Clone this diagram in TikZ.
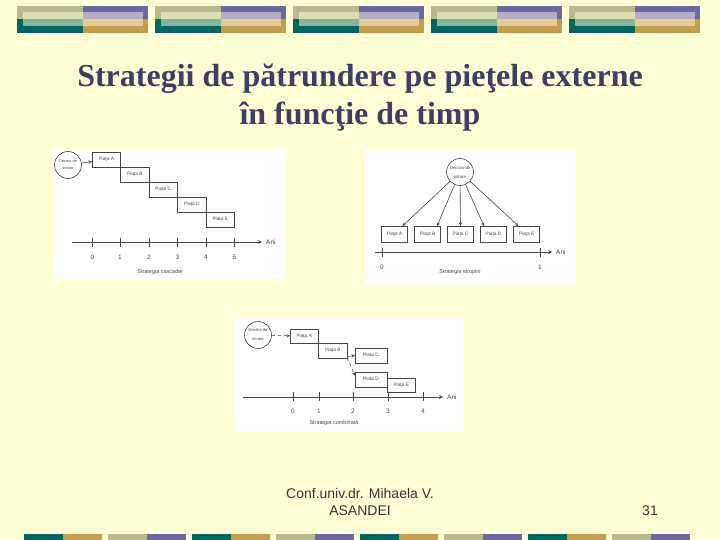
\documentclass[tikz,border=0pt]{standalone}
\usepackage{fontspec}
\setmainfont{Liberation Serif}
\setsansfont{Liberation Sans}
\usetikzlibrary{arrows,arrows.meta,positioning,calc}

\definecolor{slidebg}{RGB}{255,255,214}
\definecolor{titleink}{RGB}{62,62,102}
\definecolor{footink}{RGB}{51,51,51}
\definecolor{scanink}{RGB}{70,70,70}
\definecolor{bandsage}{RGB}{184,186,140}
\definecolor{bandsagelt}{RGB}{221,222,179}
\definecolor{bandviolet}{RGB}{106,104,160}
\definecolor{bandvioletlt}{RGB}{178,174,198}
\definecolor{bandteal}{RGB}{0,102,95}
\definecolor{bandteallt}{RGB}{134,180,156}
\definecolor{bandgold}{RGB}{196,156,76}
\definecolor{bandgoldlt}{RGB}{226,206,150}

\begin{document}
\begin{tikzpicture}[
      x=1pt,y=-1pt,
      piata/.style = {rectangle,draw=scanink,line width=0.6pt,minimum width=28.5pt,minimum height=15pt,inner sep=0pt,outer sep=0pt,text=scanink,font=\sffamily\fontsize{4.8}{5}\selectfont},
      decizie/.style = {circle,draw=scanink,line width=0.6pt,minimum size=27pt,inner sep=0pt,align=center,text=scanink,font=\sffamily\fontsize{3.8}{7}\selectfont},
      arrow/.style = {->,>=stealth,draw=scanink,line width=0.6pt},
      axa/.style = {->,>=stealth,draw=scanink,line width=0.7pt},
      ticka/.style = {draw=scanink,line width=0.6pt},
      mic/.style = {inner sep=0pt,text=scanink,font=\sffamily\fontsize{6.5}{7}\selectfont},
      eticheta/.style = {inner sep=0pt,text=scanink,font=\sffamily\fontsize{5.5}{6}\selectfont},
      panel/.style = {fill=white}
    ]
      % slide background
      \fill[slidebg] (0,0) rectangle (720,540);
      \useasboundingbox (0,0) rectangle (720,540);

      % top bands
      \foreach \x in {17,155,293,431,569}{
        \fill[bandsage] (\x,6) rectangle (\x+66,19.3);
        \fill[bandviolet] (\x+66,6) rectangle (\x+131,19.3);
        \fill[bandteal] (\x,19.3) rectangle (\x+66,32.7);
        \fill[bandgold] (\x+66,19.3) rectangle (\x+131,32.7);
        \fill[bandsagelt] (\x+6,11.7) rectangle (\x+66,19.3);
        \fill[bandvioletlt] (\x+66,11.7) rectangle (\x+125.5,19.3);
        \fill[bandteallt] (\x+6,19.3) rectangle (\x+66,26);
        \fill[bandgoldlt] (\x+66,19.3) rectangle (\x+125.5,26);
      }

      % bottom bands
      \foreach \x/\ca/\cb in {24/bandteal/bandgold,108/bandsage/bandviolet,192/bandteal/bandgold,276/bandsage/bandviolet,
                              360/bandteal/bandgold,444/bandsage/bandviolet,528/bandteal/bandgold,612/bandsage/bandviolet}{
        \fill[\ca] (\x,534) rectangle (\x+39,540);
        \fill[\cb] (\x+39,534) rectangle (\x+78,540);
      }

      % title and footer
      \node (titlu)[font=\bfseries\fontsize{32}{38}\selectfont,text=titleink,align=center] at (360,98)
        {Strategii de pătrundere pe pieţele externe\\în funcţie de timp};
      \node (autor)[font=\sffamily\fontsize{14}{17}\selectfont,text=footink,align=center] at (360,502)
        {Conf.univ.dr. Mihaela V.\\ASANDEI};
      \node (pagina)[font=\sffamily\fontsize{14}{17}\selectfont,text=footink] at (650,511) {31};

      % strategia cascadei
      \fill[panel] (53,149) rectangle (286,280);
      \node (dec1)[decizie] at (68,165) {Decizia de\\intrare};
      \node (pA)[piata,anchor=north west] at (92,152) {Piaţa A};
      \node (pB)[piata,below right = 0pt and 0pt of pA]{Piaţa B};
      \node (pC)[piata,below right = 0pt and 0pt of pB]{Piaţa C};
      \node (pD)[piata,below right = 0pt and 0pt of pC]{Piaţa D};
      \node (pE)[piata,below right = 0pt and 0pt of pD]{Piaţa E};
      \path (dec1) edge[arrow] (pA);
      \coordinate (ax1) at (72,242);
      \node (ani1)[mic,inner xsep=4pt,anchor=west] at (262,242) {Ani};
      \draw[axa] (ax1) -- (ani1.west);
      \foreach \i/\x in {0/92.5,1/120,2/149,3/177.5,4/206,5/234.5}{
        \draw[ticka] (\x,238) -- (\x,247);
        \node (a\i)[mic] at (\x,257) {\i};
      }
      \node (s1)[eticheta] at (160,272) {Strategia cascadei};

      % strategia stropirii
      \fill[panel] (365,149) rectangle (576,285);
      \node (dec2)[decizie,font=\sffamily\fontsize{4.3}{9}\selectfont] at (460,172) {Decizia de\\intrare};
      \node (qA)[piata,minimum width=26pt,minimum height=16pt] at (394.5,234) {Piaţa A};
      \node (qB)[piata,minimum width=26pt,minimum height=16pt,right = 7pt of qA]{Piaţa B};
      \node (qC)[piata,minimum width=26pt,minimum height=16pt,right = 7pt of qB]{Piaţa C};
      \node (qD)[piata,minimum width=26pt,minimum height=16pt,right = 7pt of qC]{Piaţa D};
      \node (qE)[piata,minimum width=26pt,minimum height=16pt,right = 7pt of qD]{Piaţa E};
      \path (dec2) edge[arrow] (qA.45)
                   edge[arrow] (qB.40)
                   edge[arrow] (qC.north)
                   edge[arrow] (qD.140)
                   edge[arrow] (qE.135);
      \coordinate (ax2) at (375,252);
      \node (ani2)[mic,inner xsep=4pt,anchor=west] at (552,252) {Ani};
      \draw[axa] (ax2) -- (ani2.west);
      \foreach \i/\x in {0/382,1/540}{
        \draw[ticka] (\x,248) -- (\x,257);
        \node (b\i)[mic] at (\x,267) {\i};
      }
      \node (s2)[eticheta] at (460,272) {Strategia stropirii};

      % strategia combinata
      \fill[panel] (233,318) rectangle (464,432);
      \node (dec3)[decizie,font=\sffamily\fontsize{4}{9}\selectfont] at (258,335) {Decizia de\\intrare};
      \node (rA)[piata,minimum height=14.5pt,anchor=north west] at (290,329) {Piaţa A};
      \node (rB)[piata,minimum height=14.5pt,below right = 0pt and 0pt of rA]{Piaţa B};
      \node (rC)[piata,minimum width=32pt,anchor=north west] at (355,348) {Piaţa C};
      \node (rD)[piata,minimum width=32pt,anchor=north west] at (355,372) {Piaţa D};
      \node (rE)[piata,minimum height=14.5pt,anchor=north west] at (387,378) {Piaţa E};
      \draw[arrow,dashed] (dec3) -- (rA);
      \draw[arrow] (rB.-23) -- (rC.west);
      \draw[arrow,dashed] (rB.south east) -- (rD.166);
      \coordinate (ax3) at (243,397);
      \node (ani3)[mic,inner xsep=4pt,anchor=west] at (443,397) {Ani};
      \draw[axa] (ax3) -- (ani3.west);
      \foreach \i/\x in {0/293,1/319,2/353,3/388,4/423}{
        \draw[ticka] (\x,392) -- (\x,401);
        \node (c\i)[mic] at (\x,411) {\i};
      }
      \node (s3)[eticheta] at (334,423) {Strategia combinată};
\end{tikzpicture}
\end{document}
